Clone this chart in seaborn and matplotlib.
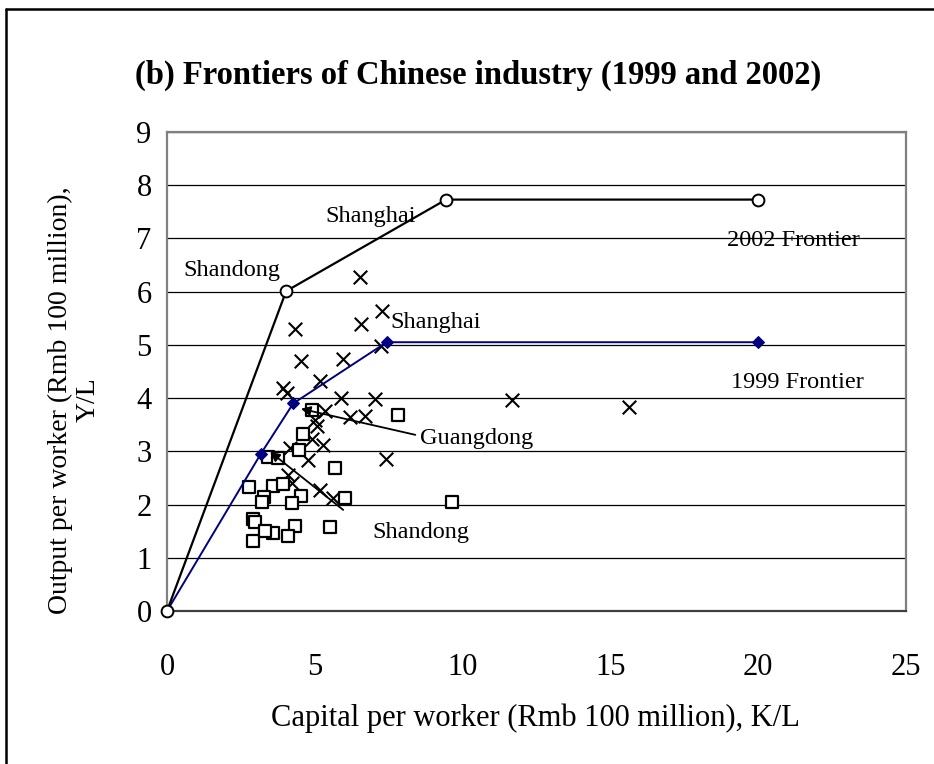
import matplotlib
matplotlib.use("Agg")
import matplotlib.pyplot as plt
import seaborn as sns
import pandas as pd

# ---- data ----
frontier2002_k = [0, 4.03, 9.44, 20]
frontier2002_y = [0, 6.01, 7.73, 7.73]
frontier1999_k = [0, 3.17, 4.27, 7.43, 20]
frontier1999_y = [0, 2.95, 3.90, 5.05, 5.05]

prov2002_k = [6.53, 7.28, 4.32, 6.55, 4.53, 5.96, 7.25, 5.18, 3.94, 4.07, 5.90, 7.04,
              5.35, 6.19, 6.70, 7.41, 11.66, 15.63, 5.00, 5.08, 4.90, 5.29, 4.16, 4.78,
              4.11, 4.22, 5.18, 5.63]
prov2002_y = [6.28, 5.63, 5.29, 5.40, 4.69, 4.74, 4.98, 4.32, 4.19, 4.09, 4.01, 3.99,
              3.75, 3.64, 3.67, 2.86, 3.97, 3.83, 3.58, 3.48, 3.24, 3.12, 3.06, 2.83,
              2.56, 2.40, 2.27, 2.12]

prov1999_k = [7.80, 9.64, 4.90, 4.61, 4.45, 3.41, 3.76, 5.69, 2.78, 3.60, 3.94, 3.29,
              3.22, 4.52, 4.22, 6.03, 2.92, 2.98, 3.60, 2.92, 4.33, 4.11, 5.52, 3.32]
prov1999_y = [3.69, 2.05, 3.78, 3.33, 3.02, 2.90, 2.87, 2.68, 2.33, 2.35, 2.39, 2.15,
              2.04, 2.16, 2.03, 2.13, 1.72, 1.67, 1.46, 1.32, 1.60, 1.40, 1.57, 1.50]

x_ticks = [0, 5, 10, 15, 20, 25]
y_ticks = [0, 1, 2, 3, 4, 5, 6, 7, 8, 9]

labels_text = ["Shanghai", "2002 Frontier", "Shandong", "Shanghai", "1999 Frontier",
               "Guangdong", "Shandong"]
labels_k = [5.35, 18.95, 0.54, 7.55, 19.09, 8.56, 6.94]
labels_y = [7.42, 6.97, 6.39, 5.43, 4.30, 3.25, 1.48]

sns.set_style("white")
plt.rcParams["font.family"] = ["Liberation Serif", "DejaVu Serif"]
plt.rcParams["text.color"] = "black"
plt.rcParams["xtick.labelcolor"] = "black"
plt.rcParams["ytick.labelcolor"] = "black"

fig = plt.figure(figsize=(9.34, 7.64), dpi=100)
ax = fig.add_axes([167/934, 1 - 611/764, (906 - 167)/934, (611 - 132)/764])

ax.set_xlim(0, 25)
ax.set_ylim(0, 9)
for yv in y_ticks[1:]:
    ax.axhline(yv, color="black", lw=0.9, zorder=0)

df02 = pd.DataFrame({"k": frontier2002_k, "y": frontier2002_y})
df99 = pd.DataFrame({"k": frontier1999_k, "y": frontier1999_y})
sns.lineplot(data=df99, x="k", y="y", sort=False, ax=ax, color="#000080", lw=1.4,
             marker="D", markersize=6.5, markerfacecolor="#000080",
             markeredgecolor="#000080", zorder=4)
sns.lineplot(data=df02, x="k", y="y", sort=False, ax=ax, color="black", lw=1.6,
             marker="o", markersize=8.5, markerfacecolor="white",
             markeredgecolor="black", markeredgewidth=1.4, zorder=5, clip_on=False)

sns.scatterplot(x=prov2002_k, y=prov2002_y, ax=ax, marker="x", s=95, color="black",
                linewidth=1.5, zorder=2)
sns.scatterplot(x=prov1999_k, y=prov1999_y, ax=ax, marker="s", s=75,
                facecolor="white", edgecolor="black", linewidth=1.6, zorder=2)

for t, kx, ky in zip(labels_text, labels_k, labels_y):
    ax.text(kx, ky, t, ha="left", va="center", fontsize=17.5, color="black", zorder=6)

ax.annotate("", xy=(4.53, 3.80), xytext=(8.40, 3.31),
            arrowprops=dict(arrowstyle="-|>", color="black", lw=1.3,
                            mutation_scale=14, shrinkA=0, shrinkB=0), zorder=5)
ax.annotate("", xy=(3.49, 2.99), xytext=(5.96, 1.90),
            arrowprops=dict(arrowstyle="-|>", color="black", lw=1.3,
                            mutation_scale=14, shrinkA=0, shrinkB=0), zorder=5)

ax.set_xticks(x_ticks)
ax.set_yticks(y_ticks)
ax.set_xticklabels([str(v) for v in x_ticks])
ax.set_yticklabels([str(v) for v in y_ticks])
ax.tick_params(axis="both", direction="in", length=6, width=1, color="#555555",
               labelsize=22, labelcolor="black")
ax.tick_params(axis="x", pad=30)
ax.tick_params(axis="y", pad=11)
for side in ["left", "right", "top", "bottom"]:
    ax.spines[side].set_visible(True)
    ax.spines[side].set_color("#808080")
    ax.spines[side].set_linewidth(1.6)
ax.spines["bottom"].set_color("#404040")
ax.set_xlabel("")
ax.set_ylabel("")

fig.text(478/934, 1 - 75/764, "(b) Frontiers of Chinese industry (1999 and 2002)",
         ha="center", va="center", fontsize=23.5, fontweight="bold", color="black")
fig.text(535/934, 1 - 718/764, "Capital per worker (Rmb 100 million), K/L",
         ha="center", va="center", fontsize=22, color="black")
fig.text(74/934, 1 - 400/764, "Output per worker (Rmb 100 million),\nY/L",
         ha="center", va="center", rotation=90, fontsize=20, multialignment="center",
         linespacing=1.15, color="black")

# outer frame (top and left edges of the enclosing box)
fig.add_artist(plt.Line2D([6/934, 1.0], [1 - 9/764, 1 - 9/764], color="black",
                          lw=1.8, transform=fig.transFigure))
fig.add_artist(plt.Line2D([6/934, 6/934], [1 - 9/764, 0], color="black",
                          lw=1.8, transform=fig.transFigure))

fig.savefig("out.png", dpi=100)
